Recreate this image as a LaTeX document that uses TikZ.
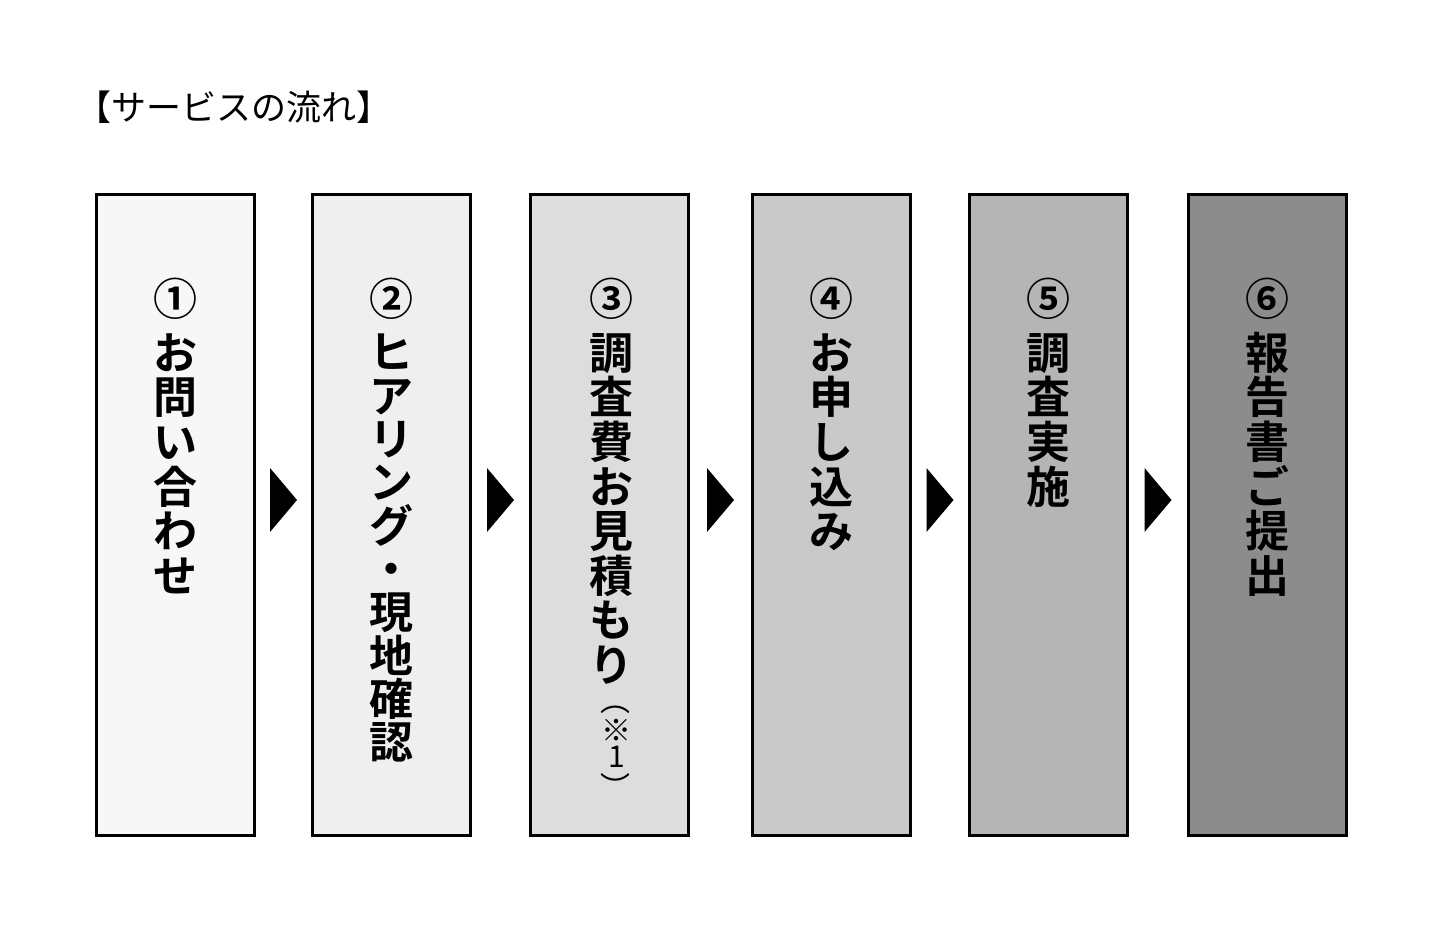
\documentclass[tikz,border=0pt]{standalone}
\usepackage{fontspec}
\setmainfont{Noto Sans CJK JP}[BoldFont={Noto Sans CJK JP Bold}]
\usetikzlibrary{calc}
\tikzset{
  stepbox/.style={draw=black, line width=3pt, minimum width=158pt, minimum height=641pt, inner sep=0pt, anchor=north west},
  vtext/.style={align=center, inner sep=0pt, anchor=north, font=\bfseries\fontsize{44}{44.6}\selectfont},
  vtextb/.style={vtext, font=\bfseries\fontsize{44}{43.3}\selectfont},
  psmall/.style={inner sep=0pt, anchor=center, font=\fontsize{30}{30}\selectfont},
  titletext/.style={inner sep=0pt, anchor=base west, font=\fontsize{35}{35}\selectfont},
  arrowtri/.style={fill=black}
}
\definecolor{c1}{HTML}{F7F7F7}
\definecolor{c2}{HTML}{EFEFEF}
\definecolor{c3}{HTML}{DDDDDD}
\definecolor{c4}{HTML}{C9C9C9}
\definecolor{c5}{HTML}{B5B5B5}
\definecolor{c6}{HTML}{8C8C8C}
\begin{document}
\begin{tikzpicture}[x=1pt,y=-1pt]
\useasboundingbox[fill=white] (0,0) rectangle (1453,939);
\node[titletext] (title) at (76,121) {【サービスの流れ】};
\node[stepbox, fill=c1] (b1) at (95,193) {};
\node[stepbox, fill=c2] (b2) at (311,193) {};
\node[stepbox, fill=c3] (b3) at (529,193) {};
\node[stepbox, fill=c4] (b4) at (751,193) {};
\node[stepbox, fill=c5] (b5) at (968,193) {};
\node[stepbox, fill=c6] (b6) at (1187,193) {};
\node[vtext] (t1) at (175.5,278) {①\\[9pt]お\\問\\い\\合\\わ\\せ};
\node[vtextb] (t2) at (391.5,278) {②\\[10pt]ヒ\\ア\\リ\\ン\\グ\\・\\現\\地\\確\\認};
\node[vtext] (t3) at (611,278) {③\\[9pt]調\\査\\費\\お\\見\\積\\も\\り};
\node[psmall] (p1) at (615,709.5) {︵};
\node[psmall] (p2) at (616,730) {※};
\node[psmall] (p3) at (617,757) {1};
\node[psmall] (p4) at (615,786) {︶};
\node[vtext] (t4) at (831.5,278) {④\\[9pt]お\\申\\し\\込\\み};
\node[vtext] (t5) at (1048.5,278) {⑤\\[9pt]調\\査\\実\\施};
\node[vtext] (t6) at (1267.5,278) {⑥\\[9pt]報\\告\\書\\ご\\提\\出};
\foreach \a/\b/\m in {b1/b2/m1,b2/b3/m2,b3/b4/m3,b4/b5/m4,b5/b6/m5}{
  \coordinate (\m) at ($(\a.east)!0.5!(\b.west) + (0,-15)$);
  \fill[arrowtri] ([shift={(-13.5,-32)}]\m) -- ([shift={(13.5,0)}]\m) -- ([shift={(-13.5,32)}]\m) -- cycle;
}
\end{tikzpicture}
\end{document}
